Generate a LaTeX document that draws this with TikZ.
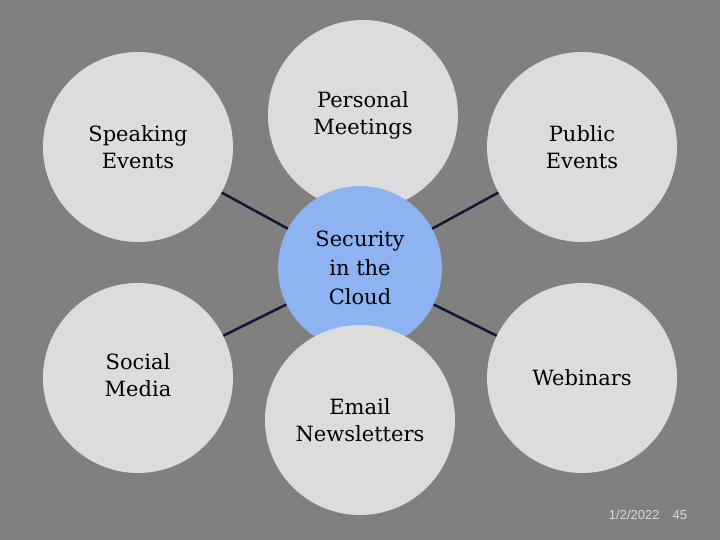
\documentclass[tikz,border=0pt]{standalone}
\usepackage{fontspec}
\setmainfont{DejaVu Serif}
\setsansfont{Liberation Sans}
\begin{document}
\begin{tikzpicture}[x=1pt,y=-1pt,
  outer/.style={circle,fill=circ,minimum size=190pt,inner sep=0pt,align=center,font=\fontsize{21}{27}\selectfont},
  link/.style={draw=navy,line width=2.5pt}]
\definecolor{bg}{HTML}{808080}
\definecolor{circ}{HTML}{DCDCDC}
\definecolor{blu}{HTML}{8DB3F2}
\definecolor{navy}{HTML}{101838}
\fill[bg] (0,0) rectangle (720,540);
\useasboundingbox (0,0) rectangle (720,540);
\coordinate (cc) at (360,268);
\coordinate (sp) at (138,147);
\coordinate (pu) at (582,147);
\coordinate (so) at (138,378);
\coordinate (we) at (582,378);
\draw[link] (cc) -- (sp);
\draw[link] (cc) -- (pu);
\draw[link] (cc) -- (so);
\draw[link] (cc) -- (we);
\node[outer] (s) at (sp) {Speaking\\Events};
\node[outer] (p) at (363,115) {Personal\\Meetings};
\node[outer] (u) at (pu) {Public\\Events};
\node[outer] (m) at (so) {\\[-16pt]Social\\Media};
\node[outer] (w) at (we) {Webinars};
\node[outer,fill=blu,minimum size=164pt,font=\fontsize{21}{29}\selectfont] (c) at (cc) {Security\\in the\\Cloud};
\node[outer] (e) at (360,420) {Email\\Newsletters};
\node[font=\sffamily\fontsize{13}{15}\selectfont,text=circ] (d) at (648,515) {1/2/2022\quad 45};
\end{tikzpicture}
\end{document}
